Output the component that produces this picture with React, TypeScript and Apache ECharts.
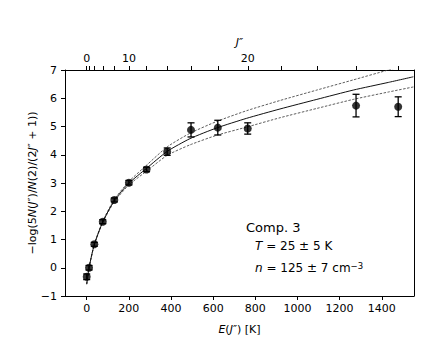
import React, { useEffect, useRef } from "react";
import * as echarts from "echarts";

// Observed data points (energy of level in K, value, error)
const E_POINTS = [0, 11, 36, 76, 131, 200, 284, 382, 495, 622, 764, 1278, 1478];
const Y_POINTS = [-0.32, 0.0, 0.83, 1.63, 2.4, 3.01, 3.48, 4.11, 4.88, 4.96, 4.93, 5.74, 5.7];
const Y_ERR = [0.1, 0.08, 0.07, 0.07, 0.07, 0.08, 0.08, 0.13, 0.25, 0.26, 0.2, 0.4, 0.35];

// Model curves
const E_MODEL = [0, 11, 36, 76, 131, 200, 284, 382, 490, 617, 759, 917, 1092, 1265, 1431, 1550];
const MODEL_MID = [-0.58, 0, 0.82, 1.62, 2.38, 2.99, 3.52, 4.12, 4.57, 4.95, 5.29, 5.62, 5.96, 6.29, 6.56, 6.76];
const MODEL_UP = [-0.58, 0, 0.83, 1.65, 2.42, 3.05, 3.63, 4.28, 4.76, 5.18, 5.56, 5.92, 6.29, 6.65, 7.0, 7.24];
const MODEL_LOW = [-0.58, 0, 0.81, 1.6, 2.34, 2.93, 3.42, 3.98, 4.35, 4.69, 4.98, 5.31, 5.64, 5.96, 6.22, 6.4];

// Axis ticks
const X_TICKS = [0, 200, 400, 600, 800, 1000, 1200, 1400];
const Y_TICKS_MIN = -1;
const Y_TICKS_MAX = 7;
const J_TICKS = [0, 2, 4, 6, 8, 10, 12, 14, 16, 18, 20, 22, 24, 26, 28];
const J_LABELS = [0, 10, 20];
const E_PER_JJ1 = 1.82; // E(J) = 1.82 * J(J+1) K, from the top axis

const X_MIN = -103;
const X_MAX = 1553;

const FONT = "DejaVu Sans";

const eOfJ = (j: number) => E_PER_JJ1 * j * (j + 1);

export default function App() {
  const ref = useRef<HTMLDivElement>(null);

  useEffect(() => {
    document.body.style.margin = "0";
    if (!ref.current) return;
    const chart = echarts.init(ref.current, null, { renderer: "svg" });

    const pairs = (xs: number[], ys: number[]) => xs.map((x, i) => [x, ys[i]]);
    const errData = E_POINTS.map((x, i) => [x, Y_POINTS[i], Y_ERR[i]]);

    const axisText = { color: "#000", fontFamily: FONT, fontSize: 11 };
    const axisLine = { show: true, onZero: false, lineStyle: { color: "#000", width: 1 } };
    const tick = { show: true, length: 4, lineStyle: { color: "#000", width: 1 } };
    const italic = { fontFamily: FONT, fontSize: 11, fontStyle: "italic", color: "#000" };

    const curve = (ys: number[], color: string, width: number, type: any, z: number) => ({
      type: "line",
      data: pairs(E_MODEL, ys),
      showSymbol: false,
      smooth: 0.2,
      clip: true,
      lineStyle: { color, width, type },
      z,
    });

    const option: any = {
      animation: false,
      backgroundColor: "#fff",
      grid: { left: 65, right: 22, top: 70, bottom: 53, containLabel: false },
      xAxis: [
        {
          type: "value",
          position: "bottom",
          min: X_MIN,
          max: X_MAX,
          axisLine,
          axisTick: { ...tick, customValues: X_TICKS },
          axisLabel: { ...axisText, margin: 7, customValues: X_TICKS, formatter: (v: number) => String(v) },
          splitLine: { show: false },
          name: "{i|E}({i|J}″) [K]",
          nameLocation: "middle",
          nameGap: 28,
          nameTextStyle: { ...axisText, rich: { i: italic } },
        },
        {
          type: "value",
          position: "top",
          min: X_MIN,
          max: X_MAX,
          axisLine,
          axisTick: { ...tick, customValues: J_TICKS.map(eOfJ) },
          axisLabel: {
            ...axisText,
            margin: 6,
            customValues: J_LABELS.map(eOfJ),
            formatter: (v: number) => {
              const j = J_LABELS.find((jj) => Math.abs(eOfJ(jj) - v) < 1e-6);
              return j === undefined ? "" : String(j);
            },
          },
          splitLine: { show: false },
          name: "J″",
          nameLocation: "middle",
          nameGap: 22,
          nameTextStyle: { ...axisText, fontStyle: "italic" },
        },
      ],
      yAxis: [
        {
          type: "value",
          position: "left",
          min: Y_TICKS_MIN,
          max: Y_TICKS_MAX,
          interval: 1,
          axisLine,
          axisTick: tick,
          axisLabel: {
            ...axisText,
            margin: 8,
            formatter: (v: number) => (v < 0 ? "−" + Math.abs(v) : String(v)),
          },
          splitLine: { show: false },
          name: "−log(5{i|N}({i|J}″)/{i|N}(2)/(2{i|J}″ + 1))",
          nameLocation: "middle",
          nameRotate: 90,
          nameGap: 27,
          nameMoveOverlap: false,
          nameTextStyle: { ...axisText, rich: { i: italic } },
        },
        {
          type: "value",
          position: "right",
          min: Y_TICKS_MIN,
          max: Y_TICKS_MAX,
          interval: 1,
          axisLine,
          axisTick: { show: false },
          axisLabel: { show: false },
          splitLine: { show: false },
        },
      ],
      series: [
        curve(MODEL_UP, "#333", 0.8, [2.5, 1.5], 1),
        curve(MODEL_LOW, "#333", 0.8, [2.5, 1.5], 1),
        curve(MODEL_MID, "#111", 1, "solid", 2),
        {
          type: "custom",
          data: errData,
          encode: { x: 0, y: 1 },
          z: 3,
          renderItem: (params: any, api: any) => {
            const x = api.value(0);
            const y = api.value(1);
            const e = api.value(2);
            const top = api.coord([x, y + e]);
            const bot = api.coord([x, y - e]);
            const hw = 3.5;
            const st = { stroke: "#000", lineWidth: 1.3 };
            return {
              type: "group",
              children: [
                { type: "line", shape: { x1: top[0], y1: top[1], x2: bot[0], y2: bot[1] }, style: st },
                { type: "line", shape: { x1: top[0] - hw, y1: top[1], x2: top[0] + hw, y2: top[1] }, style: st },
                { type: "line", shape: { x1: bot[0] - hw, y1: bot[1], x2: bot[0] + hw, y2: bot[1] }, style: st },
              ],
            };
          },
        },
        {
          type: "scatter",
          data: pairs(E_POINTS, Y_POINTS),
          symbol: "circle",
          symbolSize: 8,
          itemStyle: { color: "#000" },
          z: 4,
        },
      ],
      graphic: [
        {
          type: "text",
          left: 246,
          top: 221,
          style: { text: "Comp. 3", font: `13px "${FONT}"`, fill: "#000" },
        },
        {
          type: "text",
          left: 255,
          top: 240,
          style: {
            text: "{i|T} = 25 ± 5 K",
            fill: "#000",
            font: `12px "${FONT}"`,
            rich: {
              i: { fontFamily: FONT, fontSize: 12, fontStyle: "italic", fill: "#000" },
            },
          },
        },
        {
          type: "text",
          left: 255,
          top: 261,
          style: {
            text: "{i|n} = 125 ± 7 cm{s|−3}",
            fill: "#000",
            font: `12px "${FONT}"`,
            rich: {
              i: { fontFamily: FONT, fontSize: 12, fontStyle: "italic", fill: "#000" },
              s: { fontFamily: FONT, fontSize: 8.5, fill: "#000", verticalAlign: "top", padding: [0, 0, 5, 0] },
            },
          },
        },
      ],
    };

    chart.setOption(option);
    return () => chart.dispose();
  }, []);

  return (
    <div
      ref={ref}
      style={{ position: "absolute", left: 0, top: 0, width: 436, height: 349 }}
    />
  );
}
